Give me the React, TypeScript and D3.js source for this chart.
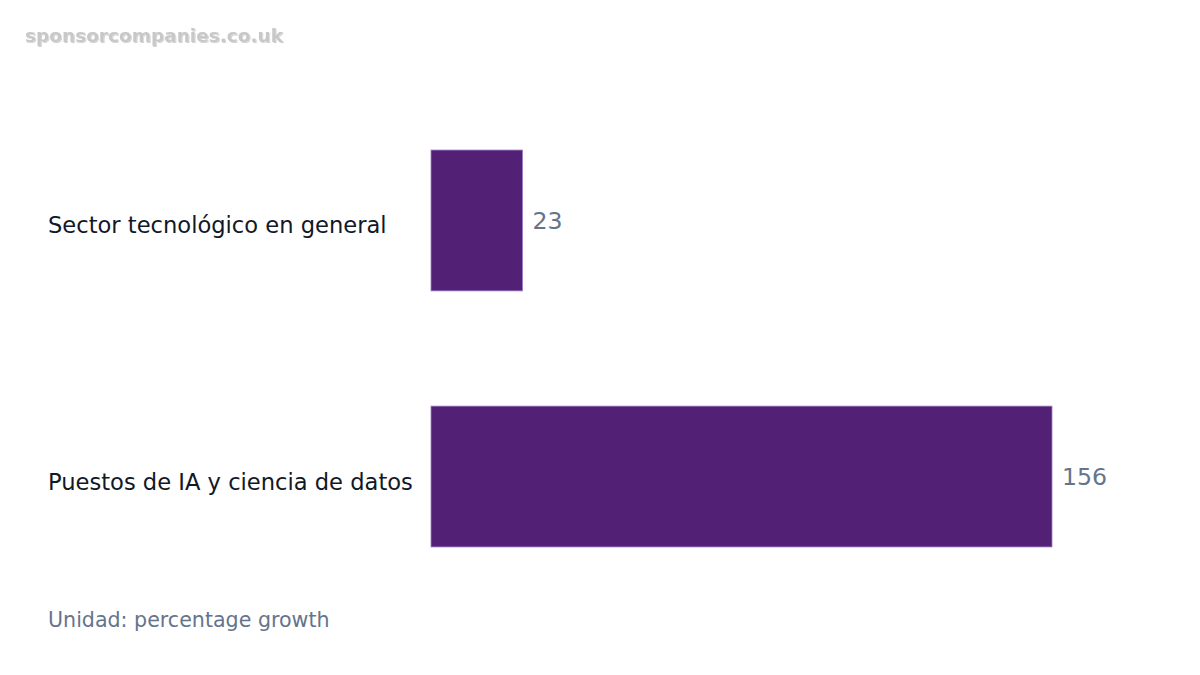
import React from "react";
import * as d3 from "d3";

const categories = ["Sector tecnológico en general", "Puestos de IA y ciencia de datos"];
const values = [23, 156];
const unitLabel = "Unidad: percentage growth";
const watermark = "sponsorcompanies.co.uk";

const W = 1200;
const H = 675;
const FONT = "'DejaVu Sans', Verdana, sans-serif";

export default function App() {
  const x = d3.scaleLinear().domain([0, 156]).range([431, 1052]);
  const y = d3
    .scaleBand<string>()
    .domain(categories)
    .range([22, 675])
    .paddingInner(0.45)
    .paddingOuter(0.5);

  return (
    <svg
      width={W}
      height={H}
      viewBox={`0 0 ${W} ${H}`}
      style={{ position: "absolute", left: 0, top: 0, background: "#fff" }}
    >
      <defs>
        <filter id="wmShadow" x="-5%" y="-20%" width="110%" height="150%">
          <feDropShadow dx="1" dy="1" stdDeviation="0.6" floodColor="#000" floodOpacity="0.18" />
        </filter>
      </defs>
      <text
        x={25}
        y={42}
        fontFamily={FONT}
        fontWeight="bold"
        fontSize={18.5}
        fill="#c8c8c8"
        filter="url(#wmShadow)"
      >
        {watermark}
      </text>
      {categories.map((c, i) => {
        const y0 = y(c) as number;
        const bw = y.bandwidth();
        const cy = y0 + bw / 2;
        return (
          <g key={c}>
            <rect
              x={x(0)}
              y={y0}
              width={x(values[i]) - x(0)}
              height={bw}
              fill="#522176"
              stroke="#a07cc5"
              strokeWidth={0.8}
            />
            <text
              x={48}
              y={cy + 13}
              fontFamily={FONT}
              fontSize={22.6}
              fill="#111827"
            >
              {c}
            </text>
            <text
              x={x(values[i]) + 10}
              y={cy + 8.5}
              fontFamily={FONT}
              fontSize={23.6}
              fill="#64748b"
            >
              {values[i]}
            </text>
          </g>
        );
      })}
      <text x={48} y={626.5} fontFamily={FONT} fontSize={20.6} fill="#64748b">
        {unitLabel}
      </text>
    </svg>
  );
}
